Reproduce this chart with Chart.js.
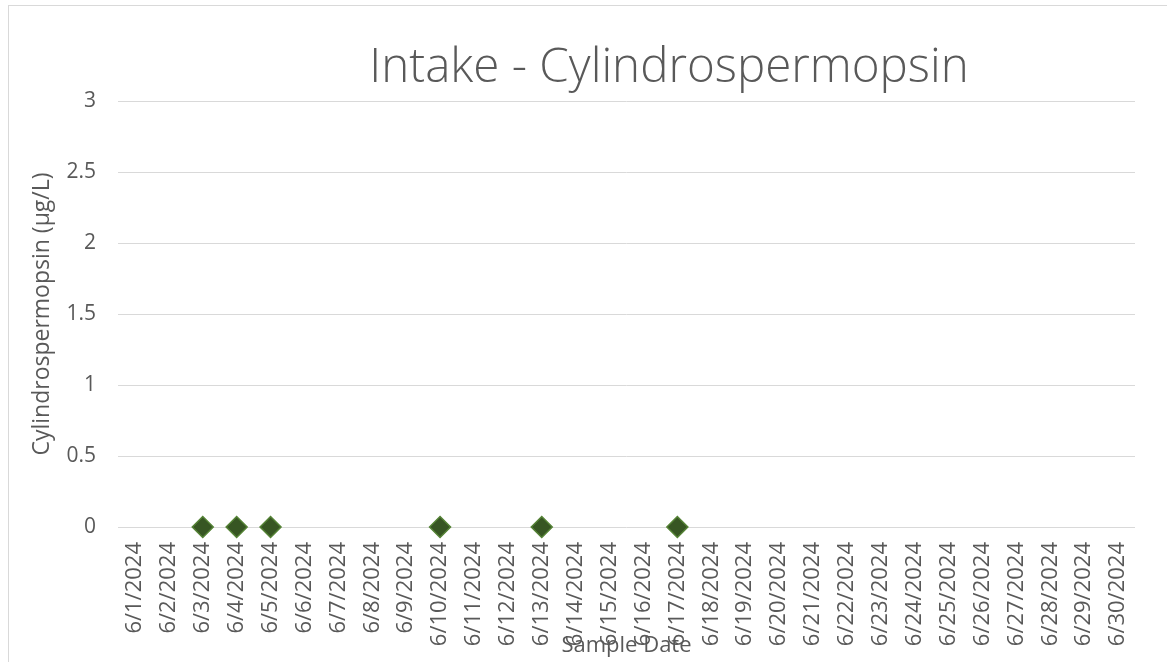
<!DOCTYPE html>
<html>
<head>
<meta charset="utf-8">
<script src="https://cdn.jsdelivr.net/npm/chart.js@4.4.1/dist/chart.umd.min.js"></script>
<style>
  html, body { margin: 0; padding: 0; background: #ffffff; }
  #wrap { position: relative; width: 1167px; height: 662px; }
</style>
</head>
<body>
<div id="wrap"><canvas id="c" width="1167" height="662"></canvas></div>
<script>
const chartTitle = 'Intake - Cylindrospermopsin';
const yAxisTitle = 'Cylindrospermopsin (µg/L)';
const xAxisTitle = 'Sample Date';
const categories = [
  '6/1/2024','6/2/2024','6/3/2024','6/4/2024','6/5/2024','6/6/2024','6/7/2024','6/8/2024','6/9/2024','6/10/2024',
  '6/11/2024','6/12/2024','6/13/2024','6/14/2024','6/15/2024','6/16/2024','6/17/2024','6/18/2024','6/19/2024','6/20/2024',
  '6/21/2024','6/22/2024','6/23/2024','6/24/2024','6/25/2024','6/26/2024','6/27/2024','6/28/2024','6/29/2024','6/30/2024'
];
const sampleDates = ['6/3/2024','6/4/2024','6/5/2024','6/10/2024','6/13/2024','6/17/2024'];
const sampleValues = [0, 0, 0, 0, 0, 0];
const yTicks = [0, 0.5, 1, 1.5, 2, 2.5, 3];

const seriesData = categories.map(c => {
  const i = sampleDates.indexOf(c);
  return i >= 0 ? sampleValues[i] : null;
});

const FONT = "'Open Sans', 'Liberation Sans', sans-serif";
const TEXT = '#595959';
const GRID = '#d9d9d9';

const decor = {
  id: 'decor',
  beforeDraw(chart) {
    const ctx = chart.ctx;
    ctx.save();
    ctx.fillStyle = '#ffffff';
    ctx.fillRect(0, 0, chart.width, chart.height);
    ctx.strokeStyle = GRID;
    ctx.lineWidth = 1;
    ctx.strokeRect(8.5, 5.5, 1200, 700);
    ctx.restore();
  },
  afterDraw(chart) {
    const ctx = chart.ctx;
    ctx.save();
    ctx.fillStyle = TEXT;
    ctx.font = "300 47.5px " + FONT;
    ctx.textAlign = 'center';
    ctx.textBaseline = 'middle';
    ctx.fillText(chartTitle, 669, 68);
    ctx.restore();
  }
};

new Chart(document.getElementById('c'), {
  type: 'line',
  data: {
    labels: categories,
    datasets: [{
      label: 'Cylindrospermopsin',
      data: seriesData,
      showLine: false,
      pointStyle: 'rectRot',
      pointRadius: 10.5,
      pointHoverRadius: 10.5,
      pointBackgroundColor: '#375623',
      pointBorderColor: '#548235',
      pointBorderWidth: 1.5,
      clip: false
    }]
  },
  options: {
    responsive: false,
    animation: false,
    devicePixelRatio: 1,
    layout: { padding: { left: 8, top: 101, right: 32, bottom: 0 } },
    plugins: {
      legend: { display: false },
      title: { display: false },
      tooltip: { enabled: false }
    },
    scales: {
      x: {
        type: 'category',
        offset: true,
        grid: { display: false, drawTicks: false },
        border: { display: false },
        ticks: {
          autoSkip: false,
          minRotation: 90,
          maxRotation: 90,
          padding: 15,
          color: TEXT,
          font: { family: FONT, size: 22 }
        },
        title: {
          display: true,
          text: xAxisTitle,
          color: TEXT,
          font: { family: FONT, size: 22 },
          padding: { top: 0, bottom: 3 }
        },
        afterFit(s) { s.height = 135; }
      },
      y: {
        min: 0,
        max: 3,
        afterBuildTicks(s) { s.ticks = yTicks.map(v => ({ value: v })); },
        grid: { color: GRID, lineWidth: 1, drawTicks: false },
        border: { display: false },
        ticks: {
          padding: 22,
          color: TEXT,
          font: { family: FONT, size: 21 },
          callback: v => String(v)
        },
        title: {
          display: true,
          text: yAxisTitle,
          color: TEXT,
          font: { family: FONT, size: 23 },
          padding: { top: 21, bottom: 0 }
        },
        afterFit(s) { s.width = 110; }
      }
    }
  },
  plugins: [decor]
});
</script>
</body>
</html>
